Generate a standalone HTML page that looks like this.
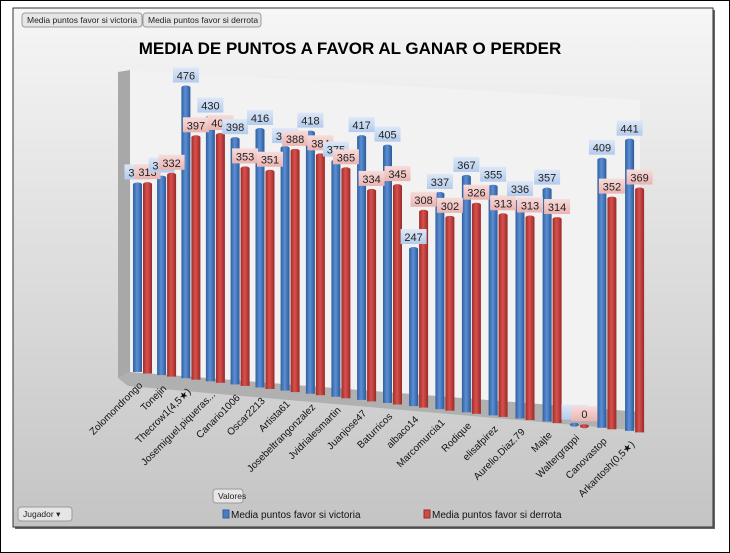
<!DOCTYPE html>
<html><head><meta charset="utf-8"><style>
body{margin:0;width:730px;height:553px;background:#fff;overflow:hidden;font-family:"Liberation Sans","DejaVu Sans",sans-serif}
#outer{position:absolute;left:0;top:0;width:728px;height:551px;border:1px solid #000}
svg{position:absolute;left:0;top:0}
</style></head><body>
<div id="outer"></div>
<svg id="chart" width="730" height="553">
<defs>
<linearGradient id="bg" x1="0" y1="0" x2="0" y2="1"><stop offset="0" stop-color="#f6f6f6"/><stop offset="1" stop-color="#c4c4c4"/></linearGradient>
<linearGradient id="gb" x1="0" y1="0" x2="1" y2="0"><stop offset="0" stop-color="#2f5f9e"/><stop offset="0.45" stop-color="#5b8fd6"/><stop offset="1" stop-color="#2d5a96"/></linearGradient>
<linearGradient id="gr" x1="0" y1="0" x2="1" y2="0"><stop offset="0" stop-color="#9e2c2a"/><stop offset="0.45" stop-color="#d9514d"/><stop offset="1" stop-color="#982a28"/></linearGradient>
<linearGradient id="lb" x1="0" y1="0" x2="0" y2="1"><stop offset="0" stop-color="#dde8f7"/><stop offset="1" stop-color="#b4cbec"/></linearGradient>
<linearGradient id="lr" x1="0" y1="0" x2="0" y2="1"><stop offset="0" stop-color="#f7dcdb"/><stop offset="1" stop-color="#eab3b1"/></linearGradient>
</defs>
<rect x="15" y="10" width="700" height="519" fill="#666"/>
<rect x="13" y="8" width="700" height="519" fill="url(#bg)" stroke="#333"/>
<polygon points="118,72 130,70 130,372 118,378" fill="#a8a8a8"/>
<polygon points="130,70 640,100 640,412 130,372" fill="#f2f2f2"/>
<polygon points="118,378 130,372 640,412 640,422 632,430 128,386" fill="#b0b0b0"/>
<text x="350" y="54" text-anchor="middle" font-size="17" font-weight="bold" fill="#000">MEDIA DE PUNTOS A FAVOR AL GANAR O PERDER</text>
<g id="btns"></g>
<g id="bars"></g>
<g id="labels"></g>
<g id="xlabels"></g>
</svg>
<script>
const categories=["Zolomondrongo","Tonejin","Thecrow1(4,5★)","Josemiguel.piqueras...","Canario1006","Oscar2213","Artista61","Josebeltrangonzalez","Jvidrialesmartin","Juanjose47","Baturricos","albaco14","Marcomurcia1","Rodique","elisafpirez","Aurelio.Diaz.79","Majte","Waltergrappi","Canovastop","Arkantosh(0,5★)"];
const victoria=[310,325,476,430,398,416,390,418,375,417,405,247,337,367,355,336,357,0,409,441];
const derrota=[313,332,397,404,353,351,388,384,365,334,345,308,302,326,313,313,314,0,352,369];
const NS="http://www.w3.org/2000/svg";
function mk(tag,attrs,parent){const e=document.createElementNS(NS,tag);for(const k in attrs)e.setAttribute(k,attrs[k]);parent.appendChild(e);return e;}
function xPos(i){return 133+i*24+i*i*0.1;}
function yBase(i){return 372+i*3.1;}
function scale(i){return 0.605+i*0.0028;}
const bars=document.getElementById('bars'),labels=document.getElementById('labels'),xl=document.getElementById('xlabels');
function drawBar(i,v,dx,fill,lfill,name){
  const x=xPos(i)+dx,b=yBase(i)+dx*0.15,h=v*scale(i),w=9;
  const r=mk('rect',{x:x,y:b-h,width:w,height:h,fill:fill},bars);
  
  
  const c=mk('ellipse',{cx:x+w/2,cy:b-h,rx:w/2,ry:2,fill:fill},bars);
  
  
  const g=mk('g',{},labels);
  
  
  const ly=b-h-20;
  mk('rect',{x:x+w/2-13,y:ly,width:26,height:15,fill:lfill},g);
  const t=mk('text',{x:x+w/2,y:ly+12,'text-anchor':'middle','font-size':11,fill:'#222'},g);
  t.textContent=v;
}
categories.forEach((c,i)=>{
  drawBar(i,victoria[i],0,'url(#gb)','url(#lb)','victoria-'+i);
  drawBar(i,derrota[i],10,'url(#gr)','url(#lr)','derrota-'+i);
  const t=mk('text',{x:0,y:0,'text-anchor':'end','font-size':10,fill:'#111',transform:`translate(${xPos(i)+10},${yBase(i)+14}) rotate(-45)`},xl);
  
  
  t.textContent=c;
});
const bt=document.getElementById('btns');
function btn(x,y,w,txt,name){
  const g=mk('g',{},bt);
  
  
  mk('rect',{x:x,y:y,width:w,height:14,rx:3,fill:'#e6e6e6',stroke:'#9a9a9a'},g);
  const t=mk('text',{x:x+5,y:y+10,'font-size':8.5,fill:'#222'},g);t.textContent=txt;
}
btn(22,13,120,'Media puntos favor si victoria','filter-victoria-button');
btn(143,13,118,'Media puntos favor si derrota','filter-derrota-button');
btn(213,489,30,'Valores','valores-button');
btn(18,507,54,'Jugador  ▾','jugador-dropdown');
const lg=mk('g',{},bt);


mk('rect',{x:223,y:510,width:6,height:8,fill:'#4a7cc4',stroke:'#2f5f9e'},lg);
let t=mk('text',{x:231,y:518,'font-size':10,fill:'#111'},lg);t.textContent='Media puntos favor si victoria';
mk('rect',{x:424,y:510,width:6,height:8,fill:'#d04a46',stroke:'#982a28'},lg);
t=mk('text',{x:432,y:518,'font-size':10,fill:'#111'},lg);t.textContent='Media puntos favor si derrota';
</script>
</body></html>
